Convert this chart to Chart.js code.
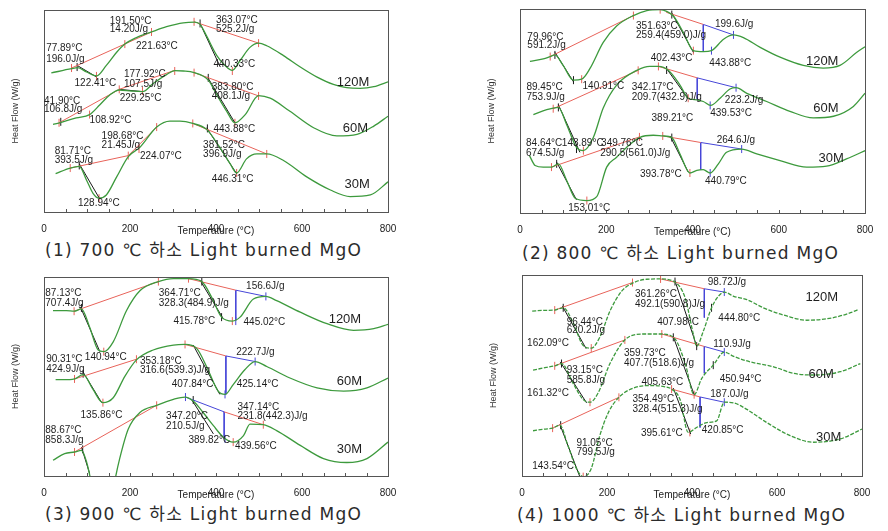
<!DOCTYPE html>
<html>
<head>
<meta charset="utf-8">
<script src="https://cdn.jsdelivr.net/npm/chart.js@4.4.1/dist/chart.umd.min.js"></script>
<style>
  body { margin: 0; background: #fff; width: 888px; height: 531px; position: relative; overflow: hidden; }
  canvas { position: absolute; }
  .cap { position: absolute; font: 17px "DejaVu Sans", "Noto Sans CJK KR", sans-serif; color: #2b2b2b; letter-spacing: 1.25px; line-height: 20px; white-space: nowrap; }
</style>
</head>
<body>
<canvas id="c1" width="400" height="233" style="left:0px;top:5px"></canvas>
<canvas id="c2" width="401" height="235" style="left:476px;top:4px"></canvas>
<canvas id="c3" width="400" height="230" style="left:0px;top:272px"></canvas>
<canvas id="c4" width="396" height="232" style="left:478px;top:270px"></canvas>
<div class="cap" id="t1" style="left:45px;top:240px"></div>
<div class="cap" id="t2" style="left:522px;top:243px"></div>
<div class="cap" id="t3" style="left:45px;top:504px"></div>
<div class="cap" id="t4" style="left:517px;top:505px"></div>
<script>
// ---- data ----
const xTicks = [0, 200, 400, 600, 800];
const seriesNames = ['120M', '60M', '30M'];
const titles = ['(1) 700 ℃ 하소 Light burned MgO', '(2) 800 ℃ 하소 Light burned MgO',
                '(3) 900 ℃ 하소 Light burned MgO', '(4) 1000 ℃ 하소 Light burned MgO'];

// panel 1 : 700 C  [temperature, heat flow (arb.)]
const p1_120M = [[17,427],[64,440],[78,443],[99,430],[122,418],[145,450],[169,490],[188,515],[215,535],[250,552],[285,568],[324,580],[351,582],[363,575],[378,540],[402,480],[421,450],[438,435],[456,465],[479,505],[499,518],[518,510],[557,480],[596,445],[634,415],[673,392],[704,382],[735,380],[767,385],[800,400]];
const p1_60M = [[21,270],[36,275],[75,290],[106,300],[130,330],[153,360],[175,375],[203,372],[229,370],[254,395],[285,422],[304,434],[324,433],[349,428],[382,405],[402,360],[425,310],[444,275],[468,300],[499,358],[526,350],[572,310],[627,260],[681,235],[728,240],[767,265],[800,295]];
const p1_30M = [[27,120],[61,137],[82,142],[99,100],[114,60],[128,45],[145,55],[169,110],[196,172],[223,200],[262,262],[293,280],[316,280],[346,273],[378,255],[409,200],[433,150],[448,122],[471,165],[495,180],[518,180],[557,160],[611,110],[666,70],[712,50],[759,55],[800,95]];
const p1_red = [[[64,442],[250,552]],[[349,583],[499,518]],[[35,275],[175,377]],[[175,377],[304,435]],[[349,428],[499,357]],[[61,137],[196,175]],[[196,175],[262,262]],[[346,273],[518,180]]];
const p1_blue = [];
const p1_black = [[[77,450],[122,415]],[[363,578],[410,445]],[[175,377],[229,370]],[[380,415],[444,275]],[[82,150],[130,42]],[[378,260],[448,120]]];
const p1_redMarks = [[64,442],[122,418],[188,515],[250,552],[349,583],[438,433],[499,518],[35,275],[106,300],[175,377],[229,372],[304,433],[349,428],[444,275],[499,357],[61,137],[128,45],[196,175],[221,195],[262,262],[346,273],[448,122],[518,180]];
const p1_blackMarks = [[77,445],[363,578],[39,278],[382,412],[82,145],[380,258]];
const p1_blueMarks = [];
const p1_labels = [['191.50°C',153,585],['14.20J/g',153,560],['363.07°C',400,588],['525.2J/g',400,560],['77.89°C',5,502],['196.0J/g',5,470],['221.63°C',214,507],['440.33°C',394,455],['122.41°C',71,395],['177.92°C',186,422],['107.5J/g',186,394],['41.90°C',0,342],['106.8J/g',0,315],['229.25°C',176,350],['108.92°C',106,282],['383.80°C',390,382],['408.1J/g',390,355],['443.88°C',394,255],['198.68°C',134,235],['21.45J/g',134,208],['81.71°C',25,188],['393.5J/g',25,160],['224.07°C',223,173],['381.52°C',370,207],['396.9J/g',370,178],['446.31°C',390,103],['128.94°C',79,30]];
const p1_names = [[681,397],[695,257],[699,87]];

// panel 2 : 800 C
const p2_120M = [[23,462],[54,470],[70,477],[81,482],[100,450],[124,405],[143,408],[162,440],[193,520],[224,570],[263,602],[294,617],[325,620],[340,615],[356,600],[379,550],[402,495],[425,492],[444,495],[472,530],[495,543],[518,535],[557,505],[603,475],[657,450],[703,442],[742,450],[781,490],[800,507]];
const p2_60M = [[31,300],[62,315],[77,320],[89,322],[108,270],[131,200],[147,190],[170,230],[193,320],[224,390],[271,435],[301,447],[321,447],[344,435],[371,390],[390,350],[410,345],[425,340],[442,328],[464,350],[487,378],[501,382],[526,365],[572,340],[626,310],[680,290],[727,295],[773,325],[800,365]];
const p2_30M = [[22,175],[35,145],[54,140],[73,140],[89,150],[108,100],[128,45],[155,38],[178,50],[201,140],[224,170],[247,200],[277,230],[309,237],[331,235],[352,230],[371,180],[394,122],[410,130],[425,132],[441,122],[460,150],[479,185],[514,195],[549,180],[603,160],[665,140],[711,143],[757,165],[800,190]];
const p2_red = [[[70,477],[263,602]],[[339,612],[425,575]],[[77,318],[274,435]],[[321,447],[411,412]],[[73,140],[277,232]],[[331,235],[419,215]]];
const p2_blue = [[[425,575],[495,543]],[[425,575],[425,492]],[[411,412],[501,382]],[[411,412],[411,345]],[[419,215],[514,195]],[[419,215],[419,132]]];
const p2_black = [[[81,490],[124,400]],[[352,610],[402,490]],[[89,330],[139,185]],[[340,440],[390,348]],[[85,155],[131,40]],[[348,235],[390,125]]];
const p2_redMarks = [[70,477],[143,408],[263,602],[325,620],[402,495],[77,318],[147,190],[274,435],[321,447],[390,350],[73,140],[155,38],[277,232],[331,235],[394,122]];
const p2_blackMarks = [[81,482],[124,405],[352,605],[89,322],[131,195],[340,436],[85,150],[352,230]];
const p2_blueMarks = [[495,543],[444,495],[501,382],[441,328],[514,195],[441,122]];
const p2_labels = [['79.96°C',17,537],['591.2J/g',17,510],['351.63°C',269,570],['259.4(459.0)J/g',269,542],['199.6J/g',452,575],['402.43°C',303,472],['443.88°C',439,457],['140.91°C',145,385],['89.45°C',15,382],['753.9J/g',15,353],['342.17°C',259,382],['209.7(432.9)J/g',259,353],['223.2J/g',475,343],['439.53°C',441,303],['389.21°C',305,288],['84.64°C',14,212],['674.5J/g',14,183],['143.89°C',97,212],['349.76°C',188,212],['290.5(561.0)J/g',186,183],['264.6J/g',456,222],['393.78°C',278,118],['440.79°C',429,98],['153.01°C',112,13]];
const p2_names = [[663,462],[680,320],[692,165]];

// panel 3 : 900 C
const p3_120M = [[21,510],[52,510],[70,508],[87,515],[106,460],[126,390],[139,385],[161,415],[192,510],[223,570],[266,598],[301,607],[336,607],[367,598],[390,550],[413,490],[438,478],[456,490],[487,545],[516,553],[541,540],[596,505],[658,470],[720,450],[767,455],[800,468]];
const p3_60M = [[27,300],[60,300],[71,302],[91,315],[114,270],[137,230],[161,245],[188,310],[215,360],[254,390],[301,405],[328,407],[355,395],[378,340],[405,265],[421,255],[440,285],[467,330],[491,355],[518,340],[572,305],[635,275],[697,265],[751,275],[800,305]];
const p3_30M = [[21,55],[48,75],[71,80],[87,85],[99,50],[108,0],[130,-120],[155,-80],[167,7],[176,60],[196,150],[223,200],[262,222],[301,240],[328,247],[347,235],[370,200],[394,160],[417,125],[440,110],[464,130],[479,165],[510,163],[541,145],[596,100],[650,60],[704,48],[751,60],[800,110]];
const p3_red = [[[70,508],[266,598]],[[336,607],[446,572]],[[71,302],[215,362]],[[328,407],[423,372]],[[71,80],[262,222]],[[419,202],[510,163]]];
const p3_blue = [[[446,572],[516,553]],[[446,572],[446,480]],[[423,372],[491,355]],[[423,372],[423,255]],[[329,247],[419,202]],[[419,202],[419,120]]];
const p3_black = [[[85,520],[130,385]],[[363,602],[417,485]],[[90,325],[134,230]],[[347,405],[409,255]],[[343,240],[394,135]],[[87,95],[106,15]]];
const p3_redMarks = [[70,508],[139,385],[266,598],[336,607],[438,478],[71,302],[137,230],[215,362],[328,407],[71,80],[262,222],[510,163],[440,110]];
const p3_blackMarks = [[87,518],[367,598],[413,490],[91,318],[347,238],[90,88]];
const p3_blueMarks = [[516,553],[446,478],[491,355],[421,255],[329,247],[421,120]];
const p3_labels = [['87.13°C',3,562],['707.4J/g',3,533],['364.71°C',267,562],['328.3(484.9)J/g',267,533],['156.6J/g',470,583],['415.78°C',301,478],['445.02°C',464,475],['90.31°C',5,363],['140.94°C',95,368],['424.9J/g',5,333],['353.18°C',223,357],['316.6(539.3)J/g',223,327],['222.7J/g',447,382],['407.84°C',297,285],['425.14°C',448,285],['135.86°C',85,192],['347.20°C',284,188],['210.5J/g',284,158],['347.14°C',450,217],['231.8(442.3)J/g',450,188],['88.67°C',3,145],['858.3J/g',3,117],['389.82°C',336,117],['439.56°C',444,97]];
const p3_names = [[662,482],[681,295],[681,87]];

// panel 4 : 1000 C
const p4_120M = [[24,510],[50,512],[77,513],[97,520],[120,475],[144,405],[163,397],[183,430],[207,510],[234,570],[260,595],[293,607],[326,608],[360,598],[384,550],[403,440],[411,403],[427,450],[446,520],[462,555],[476,568],[498,555],[529,545],[568,520],[623,495],[670,482],[733,490],[773,505],[792,515]];
const p4_60M = [[26,330],[57,338],[77,343],[93,350],[120,290],[144,240],[160,232],[179,260],[207,350],[242,422],[285,440],[329,440],[360,425],[384,350],[405,255],[423,305],[450,345],[476,385],[498,372],[537,355],[592,340],[639,320],[686,315],[749,325],[796,350]];
const p4_30M = [[26,145],[53,150],[72,153],[89,162],[108,100],[128,30],[144,5],[163,30],[183,130],[203,200],[228,247],[262,275],[301,283],[332,280],[352,272],[372,240],[391,140],[411,155],[435,170],[458,175],[476,232],[498,230],[529,210],[576,170],[631,130],[686,110],[749,120],[800,150]];
const p4_red = [[[77,513],[260,597]],[[326,608],[429,578]],[[77,343],[242,422]],[[329,440],[429,402]],[[72,153],[228,247]],[[352,272],[419,248]]];
const p4_blue = [[[429,578],[476,568]],[[429,578],[429,490]],[[429,402],[476,385]],[[429,402],[429,320]],[[419,248],[476,232]],[[419,248],[419,155]]];
const p4_black = [[[95,525],[151,395]],[[360,602],[411,403]],[[90,355],[152,230]],[[356,432],[405,255]],[[89,165],[136,5]],[[356,275],[397,135]]];
const p4_redMarks = [[77,513],[163,397],[260,597],[326,608],[77,343],[160,232],[242,422],[329,440],[405,255],[72,153],[144,5],[228,247],[352,272],[395,140]];
const p4_blackMarks = [[97,520],[360,600],[411,403],[446,520],[93,350],[356,430],[450,345],[91,162]];
const p4_blueMarks = [[476,568],[476,385],[476,232]];
const p4_labels = [['98.72J/g',437,598],['361.26°C',266,560],['492.1(590.8)J/g',266,532],['96.44°C',105,477],['620.2J/g',105,450],['407.98°C',318,477],['444.80°C',462,488],['162.09°C',12,413],['110.9J/g',450,408],['359.73°C',240,382],['407.7(518.6)J/g',240,352],['93.15°C',105,328],['585.8J/g',105,300],['450.94°C',465,303],['161.32°C',12,260],['405.63°C',281,293],['187.0J/g',443,255],['354.49°C',260,240],['328.4(515.3)J/g',260,210],['395.61°C',280,137],['420.85°C',423,148],['91.05°C',128,107],['799.5J/g',128,78],['143.54°C',24,38]];
const p4_names = [[667,552],[674,318],[692,125]];

const GREEN = '#3d9a3d', RED = '#e8635a', BLUE = '#4646d8', BLACK = '#1a1a1a';

const pts = arr => arr.map(([x, y]) => ({x, y}));

const decor = {
  id: 'decor',
  afterDatasetsDraw(chart, args, opts) {
    const {ctx, chartArea: a, scales: {x, y}} = chart;
    ctx.save();
    ctx.strokeStyle = '#555';
    ctx.lineWidth = 1;
    ctx.strokeRect(Math.round(a.left) + 0.5, Math.round(a.top) + 0.5, Math.round(a.right - a.left), Math.round(a.bottom - a.top));
    for (let t = 0; t <= 800; t += 50) {
      const px = Math.round(x.getPixelForValue(t)) + 0.5;
      ctx.beginPath();
      ctx.moveTo(px, a.bottom);
      ctx.lineTo(px, a.bottom - 3);
      ctx.stroke();
    }
    ctx.fillStyle = '#1e1e1e';
    ctx.textBaseline = 'middle';
    ctx.font = '10px "Liberation Sans", Arial, sans-serif';
    opts.labels.forEach(([txt, t, v]) => ctx.fillText(txt, x.getPixelForValue(t), y.getPixelForValue(v)));
    ctx.font = '13px "Liberation Sans", Arial, sans-serif';
    opts.names.forEach(([t, v], i) => ctx.fillText(seriesNames[i], x.getPixelForValue(t), y.getPixelForValue(v)));
    ctx.restore();
  }
};

function makeChart(id, curves, red, blue, black, marks, labels, names, yMin, yMax, dash) {
  const datasets = [];
  curves.forEach(c => datasets.push({data: pts(c), showLine: true, borderColor: GREEN, borderWidth: 1.3,
    borderDash: dash, pointRadius: 0, cubicInterpolationMode: 'monotone'}));
  const seg = (list, color, w) => list.forEach(s => datasets.push({data: pts(s), showLine: true,
    borderColor: color, borderWidth: w, pointRadius: 0}));
  seg(red, RED, 1);
  seg(blue, BLUE, 1);
  seg(black, BLACK, 1);
  [[marks[0], RED], [marks[1], BLACK], [marks[2], BLUE]].forEach(([m, col]) => datasets.push({
    data: pts(m), showLine: false, pointStyle: 'line', rotation: 90, pointRadius: 4,
    borderColor: col, borderWidth: 1}));

  return new Chart(document.getElementById(id), {
    type: 'scatter',
    data: {datasets},
    options: {
      responsive: false,
      animation: false,
      events: [],
      layout: {padding: {top: 2, right: 12, left: 0, bottom: 0}},
      plugins: {legend: {display: false}, tooltip: {enabled: false}, decor: {labels, names}},
      scales: {
        x: {
          type: 'linear', min: 0, max: 800,
          afterBuildTicks: s => { s.ticks = xTicks.map(v => ({value: v})); },
          ticks: {color: '#222', font: {size: 10, family: '"Liberation Sans", Arial'}, padding: 3, maxRotation: 0},
          grid: {display: false}, border: {display: false},
          title: {display: true, text: 'Temperature (°C)', color: '#222',
                  font: {size: 10, family: '"Liberation Sans", Arial'}, padding: {top: 0, bottom: 1}},
          afterFit: s => { s.height = 26; }
        },
        y: {
          min: yMin, max: yMax,
          ticks: {display: false}, grid: {display: false}, border: {display: false},
          title: {display: true, text: 'Heat Flow (W/g)', color: '#333',
                  font: {size: 9, family: '"Liberation Sans", Arial'}, padding: {top: 10, bottom: 0}},
          afterFit: s => { s.width = 44; }
        }
      }
    },
    plugins: [decor]
  });
}

makeChart('c1', [p1_120M, p1_60M, p1_30M], p1_red, p1_blue, p1_black,
  [p1_redMarks, p1_blackMarks, p1_blueMarks], p1_labels, p1_names, 3, 619, []);
makeChart('c2', [p2_120M, p2_60M, p2_30M], p2_red, p2_blue, p2_black,
  [p2_redMarks, p2_blackMarks, p2_blueMarks], p2_labels, p2_names, 0, 622, []);
makeChart('c3', [p3_120M, p3_60M, p3_30M], p3_red, p3_blue, p3_black,
  [p3_redMarks, p3_blackMarks, p3_blueMarks], p3_labels, p3_names, 7, 612, []);
makeChart('c4', [p4_120M, p4_60M, p4_30M], p4_red, p4_blue, p4_black,
  [p4_redMarks, p4_blackMarks, p4_blueMarks], p4_labels, p4_names, 7, 620, [4, 1.5]);

titles.forEach((t, i) => { document.getElementById('t' + (i + 1)).textContent = t; });
</script>
</body>
</html>
